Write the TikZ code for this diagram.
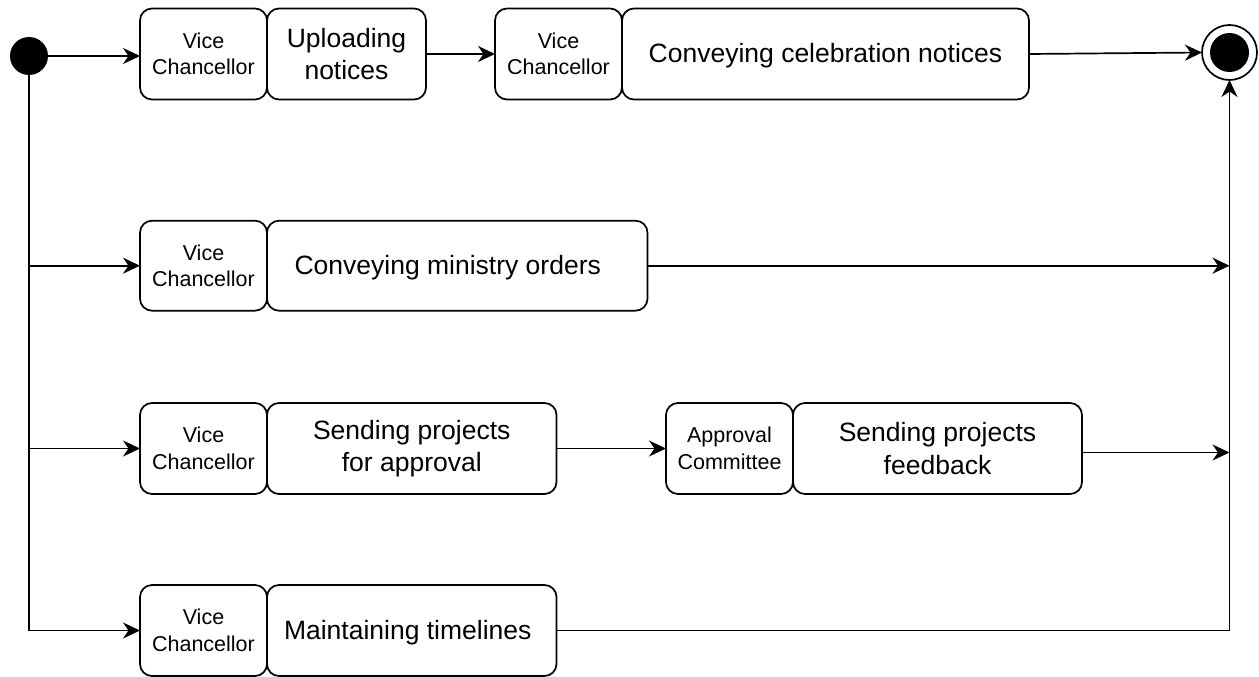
\documentclass[tikz,border=0pt]{standalone}
\usepackage{fontspec}
\setmainfont{Liberation Sans}
\usetikzlibrary{arrows.meta,calc}

\begin{document}
\begin{tikzpicture}[x=1pt,y=-1pt,
  every node/.style={inner sep=0pt, outer sep=0pt},
  actor/.style={draw, line width=1.7pt, rounded corners=12pt,
    minimum width=127pt, minimum height=91pt, align=center,
    font=\fontsize{21.5}{26.5}\selectfont},
  task/.style={draw, line width=1.7pt, rounded corners=12pt,
    minimum height=91pt, align=center,
    font=\fontsize{26.5}{32.5}\selectfont},
  oneline/.style={text height=23.5pt, text depth=5.5pt},
  flow/.style={line width=1.7pt},
  arr/.style={flow, -{Stealth[length=17pt,width=16pt,inset=5.5pt]}}]

\useasboundingbox (0,0) rectangle (1259,677);

% initial and final states
\node[circle, fill=black, minimum size=38pt] (start) at (29,56) {};
\node[circle, draw, line width=1.7pt, minimum size=55pt] (end) at (1229.5,52.5) {};
\fill (end.center) circle (19.5pt);

% row 1
\node[actor] (vc1) at (203.5,54) {Vice\\Chancellor};
\node[task, minimum width=159pt] (up) at (346.5,54) {Uploading\\notices};
\node[actor] (vc2) at (558.5,54) {Vice\\Chancellor};
\node[task, oneline, minimum width=407pt] (cel) at (825.5,54) {Conveying celebration notices};

% row 2
\node[actor, minimum height=90pt] (vc3) at (203.5,265.7) {Vice\\Chancellor};
\node[task, oneline, minimum height=90pt, minimum width=380.5pt] (min) at (457.25,265.7)
  {Conveying ministry orders\hspace*{19pt}};

% row 3
\node[actor] (vc4) at (203.5,448.5) {Vice\\Chancellor};
\node[task, minimum width=289.5pt] (spa) at (411.75,448.5) {Sending projects\\for approval};
\node[actor] (ac) at (729.5,448.5) {Approval\\Committee};
\node[task, minimum width=289pt] (fb) at (937.5,448.5) {Sending projects\\feedback};

% row 4
\node[actor] (vc5) at (203.5,630.5) {Vice\\Chancellor};
\node[task, oneline, minimum width=289.5pt] (mt) at (411.75,630.5) {Maintaining timelines\hspace*{8pt}};

% connectors
\draw[arr] (start.east) -- (start.east -| vc1.west);
\draw[arr] (up.east) -- (vc2.west);
\draw[arr] (cel.east) -- (end.west);

\draw[arr] (start.south) |- (vc5.west);
\draw[arr] (start |- vc3.west) -- (vc3.west);
\draw[arr] (start |- vc4.west) -- (vc4.west);

\draw[arr] (min.east) -- (min.east -| end.center);
\draw[arr] (spa.east) -- (ac.west);
\draw[arr] ([yshift=-4pt]fb.east) -- ([yshift=-4pt]fb.east -| end.center);
\draw[arr] (mt.east) -| (end.south);
\end{tikzpicture}
\end{document}
